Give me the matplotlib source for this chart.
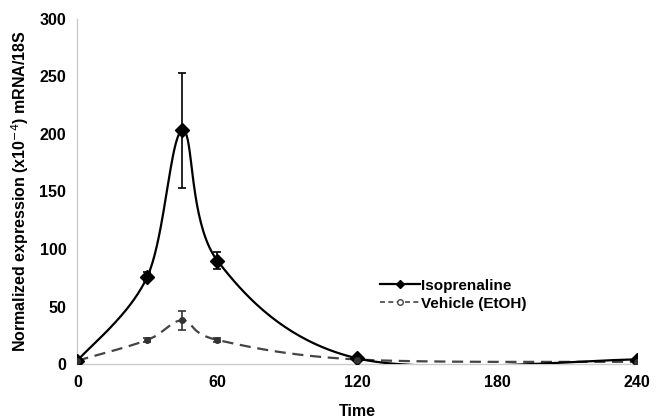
import numpy as np
import matplotlib
matplotlib.use("Agg")
import matplotlib.pyplot as plt

plt.rcParams['font.family'] = ['Liberation Sans', 'DejaVu Sans']

time = [0, 30, 45, 60, 120, 240]
iso = [3, 76, 203, 90, 5, 4]
iso_err = [0, 4, 50, 7, 0, 0]
veh = [3, 21, 38, 21, 4, 2]
veh_err = [0, 2, 8, 2, 0, 0]
xticks = [0, 60, 120, 180, 240]
yticks = [0, 50, 100, 150, 200, 250, 300]


def smooth(xs, ys, n=40):
    # Excel-style smoothed line (Catmull-Rom Bezier segments)
    P = np.column_stack([xs, ys]).astype(float)
    out = []
    for i in range(len(P) - 1):
        p0 = P[i - 1] if i > 0 else P[i]
        p1 = P[i]
        p2 = P[i + 1]
        p3 = P[i + 2] if i + 2 < len(P) else P[i + 1]
        c1 = p1 + (p2 - p0) / 6
        c2 = p2 - (p3 - p1) / 6
        t = np.linspace(0, 1, n)[:, None]
        seg = ((1 - t) ** 3) * p1 + 3 * ((1 - t) ** 2) * t * c1 + 3 * (1 - t) * t ** 2 * c2 + t ** 3 * p2
        out.append(seg if i == 0 else seg[1:])
    s = np.vstack(out)
    return s[:, 0], s[:, 1]


fig = plt.figure(figsize=(6.56, 4.19), dpi=100)
ax = fig.add_axes([0.118, 0.131, 0.853, 0.824])

sx, sy = smooth(time, iso)
ax.plot(sx, sy, color='black', lw=1.6, zorder=3)
sx2, sy2 = smooth(time, veh)
ax.plot(sx2, sy2, color='#444444', lw=1.6, ls=(0, (5, 3)), zorder=2)

ax.errorbar(time, iso, yerr=iso_err, fmt='D', color='black', ms=7,
            capsize=3, elinewidth=1.2, capthick=1.2, zorder=4)
ax.errorbar(time, veh, yerr=veh_err, fmt='o', color='#333333', ms=4,
            mfc='#333333', capsize=3, elinewidth=1.2, capthick=1.2, zorder=4)

# legend proxies
h1, = ax.plot([], [], color='black', lw=1.6, marker='D', ms=4)
h2, = ax.plot([], [], color='#444444', lw=1.2, ls=(0, (3, 2)), marker='o', ms=4, mfc='white')
leg = ax.legend([h1, h2], ['Isoprenaline', 'Vehicle (EtOH)'], loc='upper left',
                bbox_to_anchor=(0.53, 0.265), frameon=False, handlelength=2.6,
                handletextpad=0.1, labelspacing=0.25, borderaxespad=0,
                prop={'weight': 'bold', 'size': 11})

ax.set_xlim(0, 240)
ax.set_ylim(0, 300)
ax.set_xticks(xticks)
ax.set_yticks(yticks)
ax.tick_params(length=0, labelsize=11.5, pad=8)
for lab in ax.get_xticklabels() + ax.get_yticklabels():
    lab.set_fontweight('bold')
for s in ['top', 'right']:
    ax.spines[s].set_visible(False)
for s in ['left', 'bottom']:
    ax.spines[s].set_color('#cccccc')
    ax.spines[s].set_linewidth(1.0)

ax.set_xlabel('Time', fontsize=11.5, fontweight='bold', labelpad=10)
ax.set_ylabel('Normalized expression (x10$^{-4}$) mRNA/18S', fontsize=11.5,
              fontweight='bold', labelpad=6)

fig.savefig('out.png', dpi=100)
